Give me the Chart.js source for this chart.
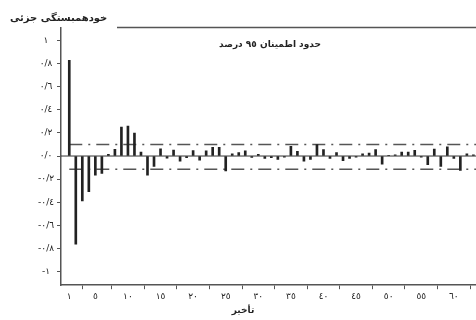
<!DOCTYPE html>
<html>
<head>
<meta charset="utf-8">
<script src="https://cdn.jsdelivr.net/npm/chart.js@4/dist/chart.umd.min.js"></script>
<style>
  html, body { margin: 0; padding: 0; background: #fff; }
  #wrap { width: 476px; height: 320px; }
</style>
</head>
<body>
<div id="wrap"><canvas id="pacf"></canvas></div>
<script>
// Partial autocorrelation by lag
const lags = [
  1, 2, 3, 4, 5, 6, 7, 8, 9, 10, 11, 12, 13, 14, 15, 16, 17, 18, 19, 20, 21,
  22, 23, 24, 25, 26, 27, 28, 29, 30, 31, 32, 33, 34, 35, 36, 37, 38, 39, 40, 41, 42,
  43, 44, 45, 46, 47, 48, 49, 50, 51, 52, 53, 54, 55, 56, 57, 58, 59, 60, 61, 62, 63
];
const pacf = [
  0.83, -0.765, -0.39, -0.31, -0.165, -0.15, 0.015, 0.058, 0.25, 0.26, 0.20, 0.035, -0.165, -0.09, 0.062, -0.018, 0.052, -0.045, -0.015, 0.048, -0.035,
  0.045, 0.075, 0.075, -0.13, 0.018, 0.03, 0.045, -0.012, 0.015, -0.02, -0.015, -0.03, -0.01, 0.085, 0.04, -0.045, -0.03, 0.10, 0.055, -0.02, 0.03,
  -0.04, -0.02, -0.01, 0.02, 0.025, 0.055, -0.07, 0.005, 0.01, 0.035, 0.035, 0.05, -0.01, -0.075, 0.06, -0.09, 0.08, -0.02, -0.125, 0.02, 0.01
];
// 95% confidence limits
const upperLimit = 0.10;
const lowerLimit = -0.115;

// Axis ticks and their labels
const xTickValues = [1, 5, 10, 15, 20, 25, 30, 35, 40, 45, 50, 55, 60];
const xTickLabels = ['١', '٥', '١٠', '١٥', '٢٠', '٢٥', '٣٠', '٣٥', '٤٠', '٤٥', '٥٠', '٥٥', '٦٠'];
const yTickValues = [-1, -0.8, -0.6, -0.4, -0.2, 0, 0.2, 0.4, 0.6, 0.8, 1];
const yTickLabels = ['-١', '-٠/٨', '-٠/٦', '-٠/٤', '-٠/٢', '٠/٠', '٠/٢', '٠/٤', '٠/٦', '٠/٨', '١'];

// Texts
const yTitle = 'خودهمبستگی جزئی';
const xTitle = 'تأخیر';
const limitsLabel = 'حدود اطمینان ٩٥ درصد';

const X_MIN = -0.27, X_MAX = 63.4;
const Y_MIN = -1.12, Y_MAX = 1.11;
const FONT = "'DejaVu Sans', sans-serif";
const INK = '#222';
const AXIS = '#555';

const barPoints = lags.map((l, i) => ({ x: l, y: pacf[i] }));
const hLine = (y, x0) => [{ x: x0, y }, { x: X_MAX, y }];

const decorations = {
  id: 'decorations',
  afterDatasetsDraw(chart) {
    const { ctx, chartArea } = chart;
    ctx.save();
    // top frame line
    ctx.strokeStyle = AXIS;
    ctx.lineWidth = 1.5;
    ctx.beginPath();
    ctx.moveTo(117, chartArea.top - 0.5);
    ctx.lineTo(chartArea.right, chartArea.top - 0.5);
    ctx.stroke();
    // confidence limits caption
    ctx.fillStyle = INK;
    ctx.font = "bold 9px " + FONT;
    ctx.textAlign = 'center';
    ctx.textBaseline = 'middle';
    ctx.fillText(limitsLabel, 270, chartArea.top + 17);
    ctx.restore();
  }
};

new Chart(document.getElementById('pacf'), {
  type: 'bar',
  data: {
    datasets: [
      {
        type: 'line',
        data: hLine(0, X_MIN),
        borderColor: '#333',
        borderWidth: 1,
        pointRadius: 0,
        order: 3
      },
      {
        type: 'line',
        data: hLine(upperLimit, 1),
        borderColor: '#555',
        borderWidth: 1.5,
        borderDash: [13, 6, 2, 6],
        pointRadius: 0,
        order: 2
      },
      {
        type: 'line',
        data: hLine(lowerLimit, 1),
        borderColor: '#555',
        borderWidth: 1.5,
        borderDash: [13, 6, 2, 6],
        pointRadius: 0,
        order: 2
      },
      {
        type: 'bar',
        data: barPoints,
        backgroundColor: INK,
        borderWidth: 0,
        barThickness: 2,
        order: 1
      }
    ]
  },
  options: {
    responsive: true,
    maintainAspectRatio: false,
    animation: false,
    events: [],
    layout: { padding: { left: 10, right: 0, top: 0, bottom: 0 } },
    plugins: {
      legend: { display: false },
      tooltip: { enabled: false },
      title: {
        display: true,
        text: yTitle,
        align: 'start',
        color: INK,
        font: { family: FONT, size: 10, weight: 'bold' },
        padding: { top: 12, bottom: 4 }
      },
      subtitle: {
        display: true,
        text: xTitle,
        position: 'bottom',
        align: 'center',
        color: INK,
        font: { family: FONT, size: 9, weight: 'bold' },
        padding: { top: 0, bottom: 4 }
      }
    },
    scales: {
      x: {
        type: 'linear',
        min: X_MIN,
        max: X_MAX,
        offset: false,
        afterBuildTicks: (s) => { s.ticks = xTickValues.map(v => ({ value: v })); },
        afterFit: (s) => { s.height = 20; },
        ticks: {
          autoSkip: false,
          maxRotation: 0,
          padding: 2,
          color: INK,
          font: { family: FONT, size: 9 },
          callback: (v, i) => xTickLabels[i]
        },
        grid: { drawOnChartArea: false, drawTicks: true, tickLength: 4, tickColor: AXIS, tickWidth: 1 },
        border: { display: true, color: AXIS, width: 1.5 }
      },
      y: {
        type: 'linear',
        min: Y_MIN,
        max: Y_MAX,
        afterBuildTicks: (s) => { s.ticks = yTickValues.map(v => ({ value: v })); },
        afterFit: (s) => { s.width = 51; },
        ticks: {
          autoSkip: false,
          padding: 3,
          crossAlign: 'center',
          color: INK,
          font: { family: FONT, size: 9 },
          callback: (v, i) => yTickLabels[i]
        },
        grid: { drawOnChartArea: false, drawTicks: true, tickLength: 4, tickColor: AXIS, tickWidth: 1 },
        border: { display: true, color: AXIS, width: 1.5 }
      }
    }
  },
  plugins: [decorations]
});
</script>
</body>
</html>
